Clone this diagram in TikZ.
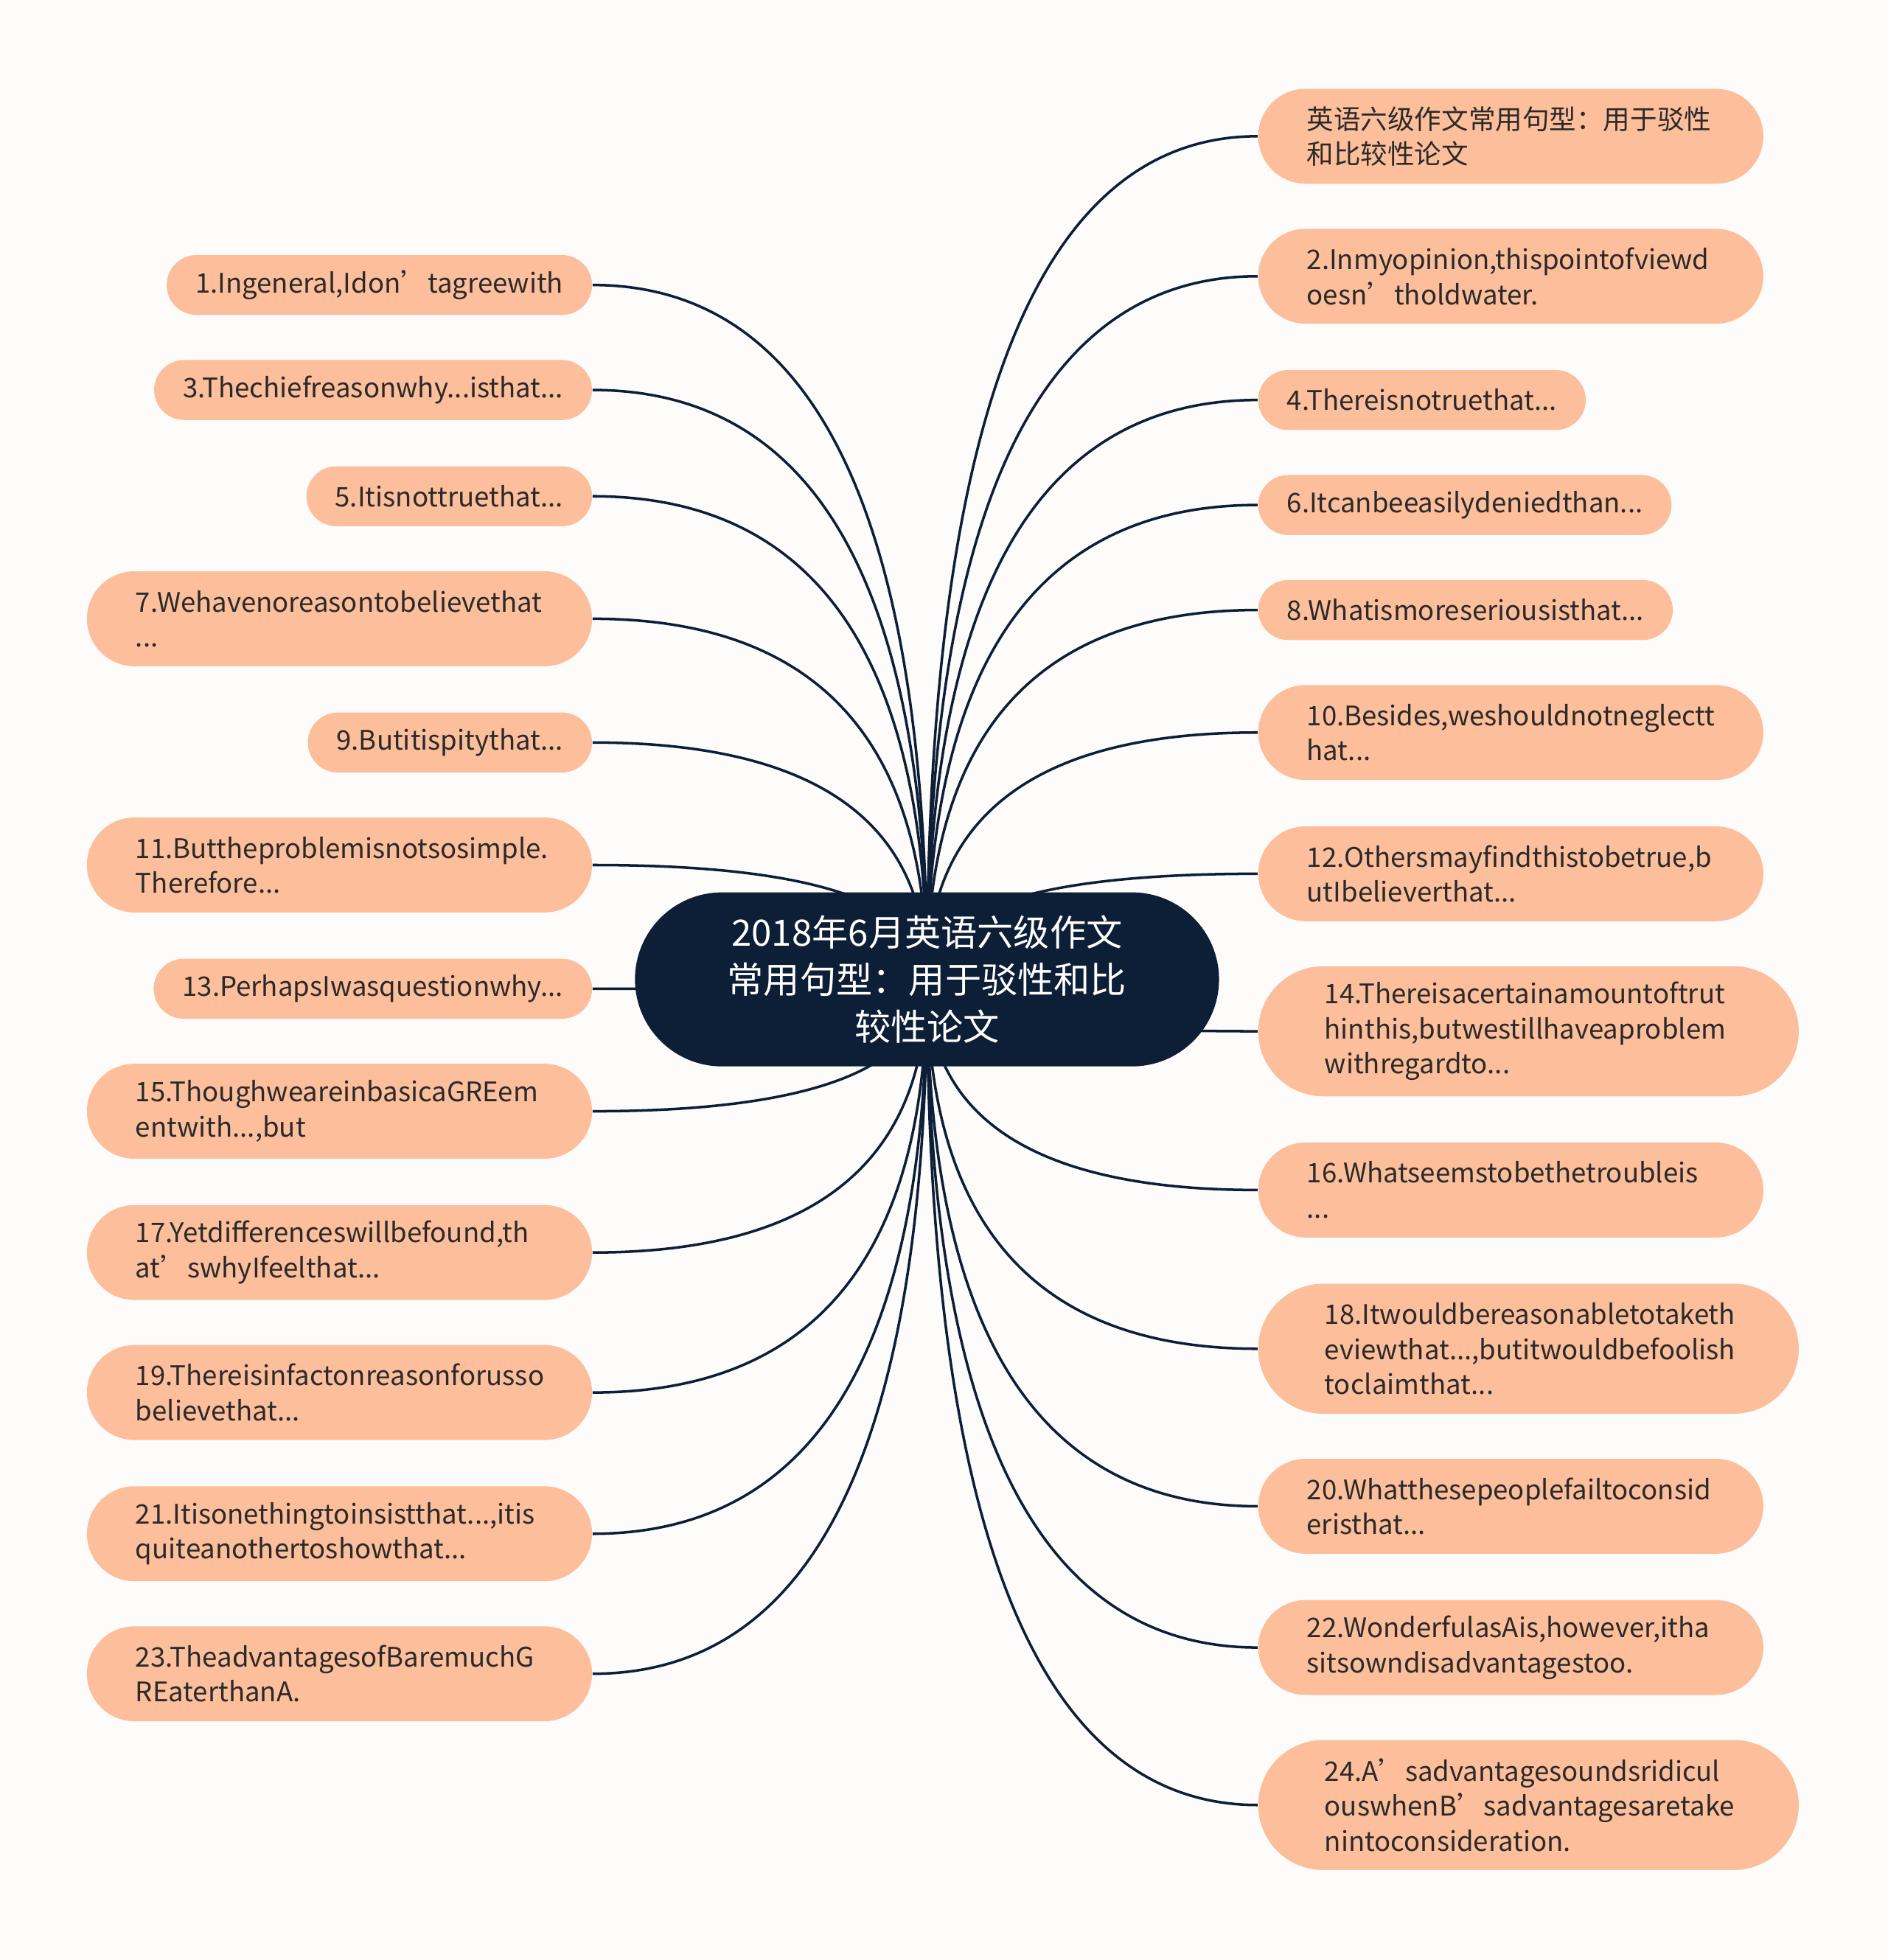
\documentclass[tikz,border=0pt]{standalone}
\usepackage{fontspec}
\setmainfont{Noto Sans CJK SC}
\usetikzlibrary{calc, backgrounds}
\definecolor{rootnavy}{RGB}{13,30,55}
\definecolor{leafpeach}{RGB}{253,191,155}
\definecolor{paper}{RGB}{254,252,251}
\definecolor{leafink}{RGB}{42,42,42}

\begin{document}
\begin{tikzpicture}[
  x=0.016954cm, y=-0.016954cm,
  topic/.style={
    rectangle, rounded corners=1.18cm,
    minimum width=7.92cm, minimum height=2.36cm,
    fill=rootnavy, text=white, align=center,
    font=\fontsize{14}{18.2}\selectfont
  },
  pill/.style={
    rectangle, rounded corners=#1, fill=leafpeach, text=leafink,
    minimum height=2*#1, inner ysep=0pt,
    font=\fontsize{10.4}{13.5}\selectfont
  },
  oneline/.style={pill=0.407cm, inner xsep=0.39cm},
  twoline/.style={pill=0.644cm, inner xsep=0.66cm, text width=5.53cm, align=left},
  threeline/.style={pill=0.882cm, inner xsep=0.9cm, text width=5.53cm, align=left},
  link/.style={draw=rootnavy, line width=1pt,
    to path={.. controls ($(\tikztostart)!0.667!(\tikztostart |- \tikztotarget)$)
      and ($(\tikztotarget)!0.667!(\tikztostart |- \tikztotarget)$) .. (\tikztotarget)}}
]

\node[topic] (root) at (741.5,783.5) {2018年6月英语六级作文\\常用句型：用于驳性和比\\较性论文};

% left side
\node[oneline, anchor=east] (l1) at (474,228) {1.Ingeneral,Idon’tagreewith};
\node[oneline, anchor=east] (l3) at (474,312) {3.Thechiefreasonwhy...isthat...};
\node[oneline, anchor=east] (l5) at (474,397) {5.Itisnottruethat...};
\node[twoline, anchor=east] (l7) at (474,495) {7.Wehavenoreasontobelievethat\\...};
\node[oneline, anchor=east] (l9) at (474,594) {9.Butitispitythat...};
\node[twoline, anchor=east] (l11) at (474,692) {11.Buttheproblemisnotsosimple.\\Therefore...};
\node[oneline, anchor=east] (l13) at (474,791) {13.PerhapsIwasquestionwhy...};
\node[twoline, anchor=east] (l15) at (474,889) {15.ThoughweareinbasicaGREem\\entwith...,but};
\node[twoline, anchor=east] (l17) at (474,1002) {17.Yetdifferenceswillbefound,th\\at’swhyIfeelthat...};
\node[twoline, anchor=east] (l19) at (474,1114) {19.Thereisinfactonreasonforusso\\believethat...};
\node[twoline, anchor=east] (l21) at (474,1227) {21.Itisonethingtoinsistthat...,itis\\quiteanothertoshowthat...};
\node[twoline, anchor=east] (l23) at (474,1339) {23.TheadvantagesofBaremuchG\\REaterthanA.};

% right side
\node[twoline, anchor=west] (r0) at (1006,109) {英语六级作文常用句型：用于驳性\\和比较性论文};
\node[twoline, anchor=west] (r2) at (1006,221) {2.Inmyopinion,thispointofviewd\\oesn’tholdwater.};
\node[oneline, anchor=west] (r4) at (1006,320) {4.Thereisnotruethat...};
\node[oneline, anchor=west] (r6) at (1006,404) {6.Itcanbeeasilydeniedthan...};
\node[oneline, anchor=west] (r8) at (1006,488) {8.Whatismoreseriousisthat...};
\node[twoline, anchor=west] (r10) at (1006,586) {10.Besides,weshouldnotneglectt\\hat...};
\node[twoline, anchor=west] (r12) at (1006,699) {12.Othersmayfindthistobetrue,b\\utIbelieverthat...};
\node[threeline, anchor=west] (r14) at (1006,825) {14.Thereisacertainamountoftrut\\hinthis,butwestillhaveaproblem\\withregardto...};
\node[twoline, anchor=west] (r16) at (1006,952) {16.Whatseemstobethetroubleis\\...};
\node[threeline, anchor=west] (r18) at (1006,1079) {18.Itwouldbereasonabletotaketh\\eviewthat...,butitwouldbefoolish\\toclaimthat...};
\node[twoline, anchor=west] (r20) at (1006,1205) {20.Whatthesepeoplefailtoconsid\\eristhat...};
\node[twoline, anchor=west] (r22) at (1006,1318) {22.WonderfulasAis,however,itha\\sitsowndisadvantagestoo.};
\node[threeline, anchor=west] (r24) at (1006,1444) {24.A’sadvantagesoundsridicul\\ouswhenB’sadvantagesaretake\\nintoconsideration.};

\begin{scope}[on background layer]
\fill[paper] (0,0) rectangle (1510,1568);
\draw[link] (root.center) to (l1.east);
\draw[link] (root.center) to (l3.east);
\draw[link] (root.center) to (l5.east);
\draw[link] (root.center) to (l7.east);
\draw[link] (root.center) to (l9.east);
\draw[link] (root.center) to (l11.east);
\draw[link] (root.center) to (l13.east);
\draw[link] (root.center) to (l15.east);
\draw[link] (root.center) to (l17.east);
\draw[link] (root.center) to (l19.east);
\draw[link] (root.center) to (l21.east);
\draw[link] (root.center) to (l23.east);
\draw[link] (root.center) to (r0.west);
\draw[link] (root.center) to (r2.west);
\draw[link] (root.center) to (r4.west);
\draw[link] (root.center) to (r6.west);
\draw[link] (root.center) to (r8.west);
\draw[link] (root.center) to (r10.west);
\draw[link] (root.center) to (r12.west);
\draw[link] (root.center) to (r14.west);
\draw[link] (root.center) to (r16.west);
\draw[link] (root.center) to (r18.west);
\draw[link] (root.center) to (r20.west);
\draw[link] (root.center) to (r22.west);
\draw[link] (root.center) to (r24.west);
\end{scope}

\useasboundingbox (0,0) rectangle (1510,1568);
\end{tikzpicture}
\end{document}
